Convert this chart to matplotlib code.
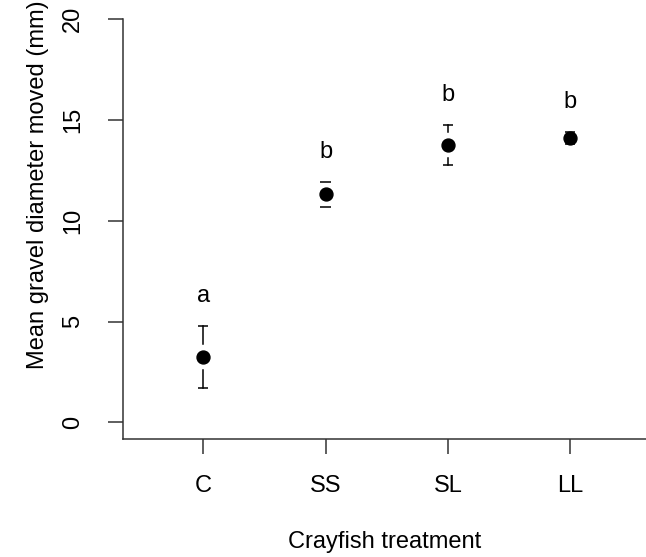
import numpy as np
import matplotlib
matplotlib.use("Agg")
import matplotlib.pyplot as plt

# ---- data ----
treatments = ["C", "SS", "SL", "LL"]
mean_diam = [3.25, 11.32, 13.78, 14.12]
se_diam = [1.52, 0.63, 1.00, 0.31]
group_letters = ["a", "b", "b", "b"]
yticks = [0, 5, 10, 15, 20]

plt.rcParams["font.family"] = ["Liberation Sans", "DejaVu Sans"]
plt.rcParams["font.size"] = 17

fig = plt.figure(figsize=(6.46, 5.57), dpi=100)
ax = fig.add_axes([0.19, 0.2124, 0.81, 0.7529])

x = np.arange(1, len(treatments) + 1)
means = np.array(mean_diam)
se = np.array(se_diam)
upper = means + se
lower = means - se

# error bars with a gap around the point (like gplots::plotCI)
gap = 0.65
for xi, m, lo, hi in zip(x, means, lower, upper):
    if hi - m > gap:
        ax.plot([xi, xi], [m + gap, hi], color="black", lw=1.1)
    if m - lo > gap:
        ax.plot([xi, xi], [lo, m - gap], color="black", lw=1.1)
ax.hlines(upper, x - 0.042, x + 0.042, color="black", lw=1.1)
ax.hlines(lower, x - 0.042, x + 0.042, color="black", lw=1.1)

ax.plot(x, means, "o", color="black", markersize=9.3, zorder=3)

# significance letters above the bars
for xi, hi, lab in zip(x, upper, group_letters):
    ax.annotate(lab, (xi, hi + 1.5), xytext=(0, -4.5), textcoords="offset points",
                ha="center", va="baseline", fontsize=17)

ax.set_xlim(0.341, 4.62)
ax.set_ylim(-0.81, 20)
ax.set_xticks(x)
ax.set_xticklabels(treatments)
ax.set_yticks(yticks)
ax.set_yticklabels([str(t) for t in yticks], rotation=90, va="center")

for side in ["top", "right"]:
    ax.spines[side].set_visible(False)
for side in ["left", "bottom"]:
    ax.spines[side].set_color("#333333")
    ax.spines[side].set_linewidth(1.1)
ax.tick_params(axis="both", length=10.8, width=1.1, color="#333333")
ax.tick_params(axis="x", pad=15)
ax.tick_params(axis="y", pad=17)

ax.set_xlabel("Crayfish treatment", va="center")
ax.xaxis.set_label_coords(0.5, -0.2456)
ax.set_ylabel("Mean gravel diameter moved (mm)", va="center")
ax.yaxis.set_label_coords(-0.1619, 0.605)

fig.savefig("out.png", dpi=100)
